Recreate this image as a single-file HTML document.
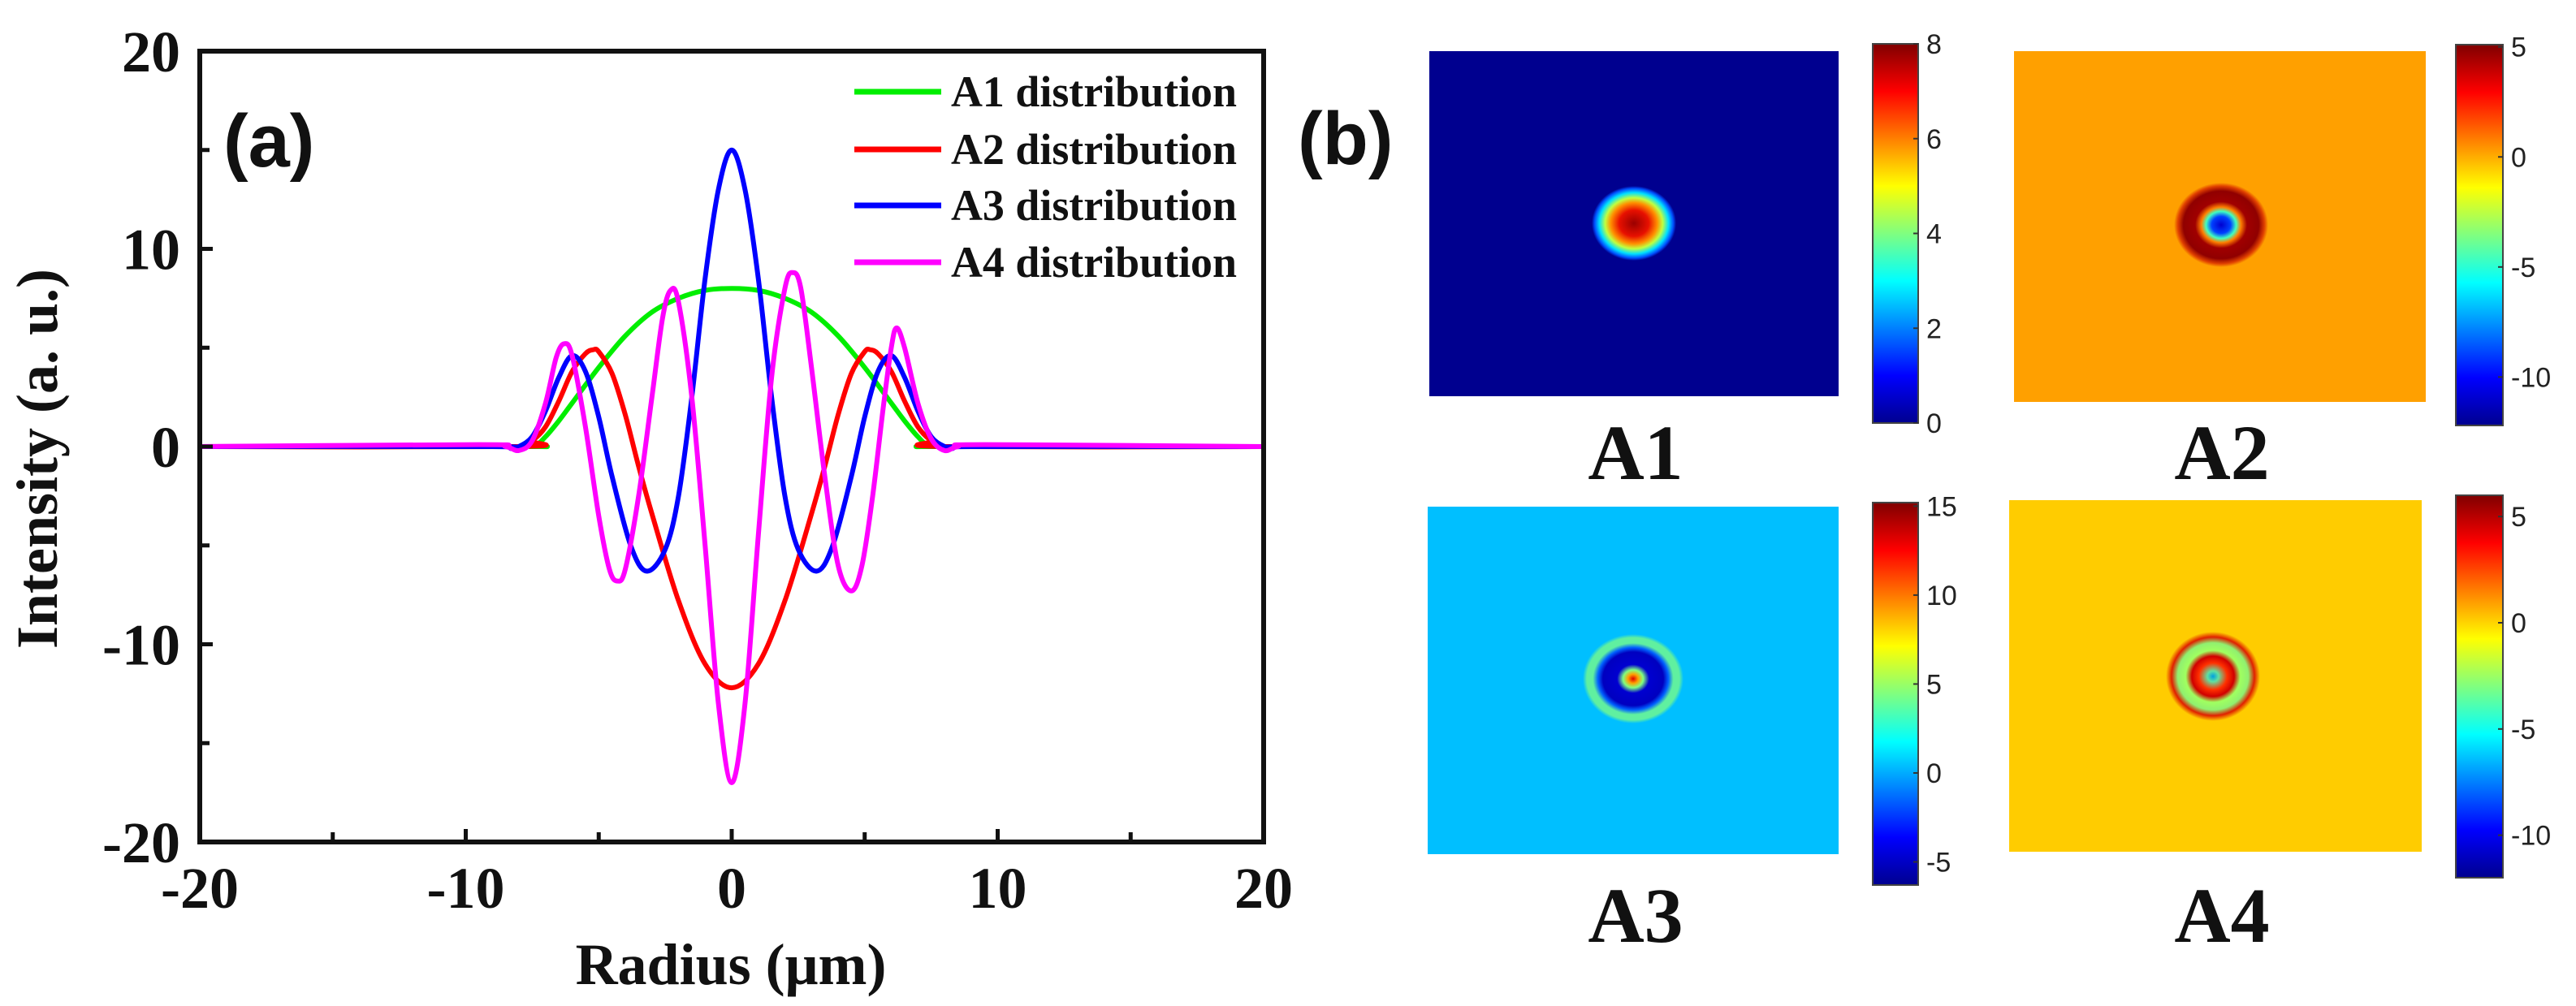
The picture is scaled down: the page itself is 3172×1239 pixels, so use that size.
<!DOCTYPE html>
<html><head><meta charset="utf-8"><style>
html,body{margin:0;padding:0;background:#fff;}
svg{display:block;}
.tick{font-family:"Liberation Serif",serif;font-weight:bold;font-size:72px;fill:#111;}
.leg{font-family:"Liberation Serif",serif;font-weight:bold;font-size:54px;fill:#111;}
.cb{font-family:"Liberation Sans",sans-serif;font-size:34px;fill:#222;}
.lab{font-family:"Liberation Serif",serif;font-weight:bold;font-size:96px;fill:#111;}
</style></head><body>
<svg id="fig" width="3172" height="1239" viewBox="0 0 3172 1239" xmlns="http://www.w3.org/2000/svg">
<defs>
<linearGradient id="jet" x1="0" y1="1" x2="0" y2="0">
<stop offset="0" stop-color="#00008f"/><stop offset="0.125" stop-color="#0000ff"/><stop offset="0.375" stop-color="#00ffff"/><stop offset="0.625" stop-color="#ffff00"/><stop offset="0.875" stop-color="#ff0000"/><stop offset="1" stop-color="#800000"/>
</linearGradient>
<radialGradient id="g1"><stop offset="0" stop-color="#9a0000"/><stop offset="0.35" stop-color="#e81000"/><stop offset="0.55" stop-color="#ff9000"/><stop offset="0.68" stop-color="#c0ff40"/><stop offset="0.82" stop-color="#00e0ff"/><stop offset="0.93" stop-color="#0050ff"/><stop offset="1" stop-color="#00008f"/></radialGradient>
<radialGradient id="g2"><stop offset="0" stop-color="#0000d0"/><stop offset="0.2" stop-color="#0040ff"/><stop offset="0.32" stop-color="#40ffc0"/><stop offset="0.42" stop-color="#ff8000"/><stop offset="0.55" stop-color="#a00000"/><stop offset="0.8" stop-color="#900000"/><stop offset="0.92" stop-color="#e04000"/><stop offset="1" stop-color="#ffa000"/></radialGradient>
<radialGradient id="g3"><stop offset="0" stop-color="#e00000"/><stop offset="0.1" stop-color="#ffa000"/><stop offset="0.2" stop-color="#80ff80"/><stop offset="0.32" stop-color="#0000d0"/><stop offset="0.6" stop-color="#0000c0"/><stop offset="0.7" stop-color="#0060ff"/><stop offset="0.8" stop-color="#60f0a0"/><stop offset="0.92" stop-color="#60f0a0"/><stop offset="1" stop-color="#00bfff"/></radialGradient>
<radialGradient id="g4"><stop offset="0" stop-color="#00a0e0"/><stop offset="0.12" stop-color="#60e0a0"/><stop offset="0.3" stop-color="#ff3000"/><stop offset="0.45" stop-color="#d00000"/><stop offset="0.58" stop-color="#a0ff60"/><stop offset="0.75" stop-color="#90f070"/><stop offset="0.88" stop-color="#e02000"/><stop offset="1" stop-color="#ffcc00"/></radialGradient>
</defs>
<g id="chartA"></g>
<text x="275" y="205" font-family="Liberation Sans, sans-serif" font-weight="bold" font-size="92" fill="#111">(a)</text>
<text x="1598" y="202" font-family="Liberation Sans, sans-serif" font-weight="bold" font-size="92" fill="#111">(b)</text>
<g id="maps"></g>
</svg>
<script>
const xTicks=[-20,-10,0,10,20];
const yTicks=[-20,-10,0,10,20];
const seriesNames=["A1 distribution","A2 distribution","A3 distribution","A4 distribution"];
const seriesColors=["#00ee00","#ff0000","#0000ff","#ff00ff"];
const a1x=[-20,-8,-7.4,-7,-6.5,-6,-5,-4,-3,-2,-1,0,1,2,3,4,5,6,6.5,7,7.4,8,20];
const a1y=[0,0,0.05,0.5,1.3,2.2,4.0,5.6,6.8,7.5,7.9,8,7.9,7.5,6.8,5.6,4.0,2.2,1.3,0.5,0.05,0,0];
const a2x=[-20,-8,-7.5,-7,-6.5,-6,-5.5,-5.2,-5,-4.5,-4,-3.5,-3,-2,-1,0,1,2,3,3.5,4,4.5,5,5.2,5.5,6,6.5,7,7.5,8,20];
const a2y=[0,0,0.3,1.0,2.3,3.8,4.7,4.9,4.8,3.7,1.6,-1,-3.4,-7.8,-11,-12.2,-11,-7.8,-3.4,-1,1.6,3.7,4.8,4.9,4.7,3.8,2.3,1.0,0.3,0,0];
const a3x=[-20,-9,-8.3,-8,-7.5,-7,-6.5,-6,-5.5,-5,-4.5,-3.8,-3.2,-2.5,-2,-1.5,-1,-0.5,0,0.5,1,1.5,2,2.5,3.2,3.8,4.5,5,5.5,6,6.5,7,7.5,8,8.3,9,20];
const a3y=[0,0,-0.1,0,0.5,1.8,3.5,4.6,3.8,1.5,-1.5,-5,-6.3,-5.2,-2.5,2.5,8.5,13,15,13,8.5,2.5,-2.5,-5.2,-6.3,-5,-1.5,1.5,3.8,4.6,3.5,1.8,0.5,0,-0.1,0,0];
const a4x=[-20,-9.5,-8.5,-8,-7.5,-7,-6.6,-6.3,-6,-5.5,-5,-4.6,-4.3,-4,-3.5,-3,-2.6,-2.3,-2,-1.5,-1,-0.5,0,0.5,1,1.5,2,2.3,2.6,3,3.5,4,4.5,4.9,5.3,5.7,6,6.2,6.5,7,7.5,8,8.5,9.5,20];
const a4y=[0,0.1,0,-0.2,0.3,2.2,4.5,5.2,4.6,1,-3.5,-6.2,-6.8,-6.2,-2.5,2.5,6.5,7.9,7.3,2.5,-5,-13,-17,-13,-4.5,3.5,8,8.8,8,4,-1.5,-6,-7.3,-6,-2.5,2,5,6,5,2.2,0.4,-0.2,0,0.1,0];
const xs=[a1x,a2x,a3x,a4x], ys=[a1y,a2y,a3y,a4y];

const NS="http://www.w3.org/2000/svg";
function mk(tag,attrs,parent){const e=document.createElementNS(NS,tag);for(const k in attrs)e.setAttribute(k,attrs[k]);parent.appendChild(e);return e;}
const L=246,R=1556,T=63,B=1037;
const X=v=>L+(v-(-20))/40*(R-L);
const Y=v=>B-(v-(-20))/40*(B-T);
const g=document.getElementById('chartA');
for(let s=0;s<4;s++){
  const px=xs[s].map(X), py=ys[s].map(Y);
  let d="M"+px[0]+","+py[0];
  for(let i=0;i<px.length-1;i++){
    const x0=px[Math.max(i-1,0)],y0=py[Math.max(i-1,0)],x1=px[i],y1=py[i],x2=px[i+1],y2=py[i+1],x3=px[Math.min(i+2,px.length-1)],y3=py[Math.min(i+2,px.length-1)];
    const c1x=x1+(x2-x0)/6,c1y=y1+(y2-y0)/6,c2x=x2-(x3-x1)/6,c2y=y2-(y3-y1)/6;
    d+=" C"+c1x+","+c1y+" "+c2x+","+c2y+" "+x2+","+y2;
  }
  const p=mk('path',{d:d,fill:'none',stroke:seriesColors[s],'stroke-width':6,'stroke-linejoin':'round'},g);
  
  
}
const fr=mk('rect',{x:L,y:T,width:R-L,height:B-T,fill:'none',stroke:'#111','stroke-width':6},g);


for(let v=-20;v<=20;v+=5){
  const major=v%10===0, len=major?16:12;
  mk('line',{x1:X(v),x2:X(v),y1:B,y2:B-len,stroke:'#111','stroke-width':5},g);
  mk('line',{x1:L,x2:L+len,y1:Y(v),y2:Y(v),stroke:'#111','stroke-width':5},g);
}
xTicks.forEach(v=>{const t=mk('text',{x:X(v),y:1118,'text-anchor':'middle',class:'tick'},g);t.textContent=v;

});
yTicks.forEach(v=>{const t=mk('text',{x:222,y:Y(v)+25,'text-anchor':'end',class:'tick'},g);t.textContent=v;

});
const xt=mk('text',{x:900,y:1212,'text-anchor':'middle',class:'tick','font-size':'86'},g);xt.textContent="Radius (\u03bcm)";


const yt=mk('text',{x:0,y:0,'text-anchor':'middle',class:'tick','font-size':'86',transform:'translate(70,565) rotate(-90)'},g);yt.textContent="Intensity (a. u.)";


const legY=[113,184,253,323];
for(let s=0;s<4;s++){
  const lg=mk('g',{},g);
  
  
  mk('line',{x1:1052,x2:1159,y1:legY[s],y2:legY[s],stroke:seriesColors[s],'stroke-width':7},lg);
  const t=mk('text',{x:1171,y:legY[s]+18,class:'leg',textLength:352,lengthAdjust:'spacingAndGlyphs'},lg);t.textContent=seriesNames[s];
}
const mapNames=["A1","A2","A3","A4"];
const mapBg=["#00008f","#ffa000","#00bfff","#ffcc00"];
const mapRects=[[1760,63,504,425],[2480,63,507,432],[1758,624,506,428],[2474,616,508,433]];
const spots=[[2012,275,52,46,'g1'],[2735,277,58,52,'g2'],[2011,836,62,55,'g3'],[2725,833,58,55,'g4']];
const cbRects=[[2306,54,56,467],[3024,55,58,469],[2306,619,56,471],[3024,610,58,471]];
const cbTicks=[[0,2,4,6,8],[-10,-5,0,5],[-5,0,5,10,15],[-10,-5,0,5]];
const cbRange=[[0,8],[-12.2,5.1],[-6.3,15.2],[-12,6]];
const labPos=[[2014,590],[2736,590],[2014,1160],[2736,1160]];
const m=document.getElementById('maps');
for(let i=0;i<4;i++){
  const [x,y,w,h]=mapRects[i];
  const r=mk('rect',{x:x,y:y,width:w,height:h,fill:mapBg[i]},m);
  
  
  const sp=spots[i];
  mk('ellipse',{cx:sp[0],cy:sp[1],rx:sp[2],ry:sp[3],fill:'url(#'+sp[4]+')'},m);
  const [cx,cy,cw,ch]=cbRects[i];
  const cb=mk('rect',{x:cx,y:cy,width:cw,height:ch,fill:'url(#jet)',stroke:'#444','stroke-width':2},m);
  
  
  const [lo,hi]=cbRange[i];
  cbTicks[i].forEach(v=>{
    const ty=cy+ch-(v-lo)/(hi-lo)*ch;
    mk('line',{x1:cx+cw-6,x2:cx+cw,y1:ty,y2:ty,stroke:'#333','stroke-width':2},m);
    const t=mk('text',{x:cx+cw+10,y:ty+12,class:'cb'},m);t.textContent=v;
    
    
  });
  const lt=mk('text',{x:labPos[i][0],y:labPos[i][1],'text-anchor':'middle',class:'lab'},m);lt.textContent=mapNames[i];
  
  
}
</script>
</body></html>
